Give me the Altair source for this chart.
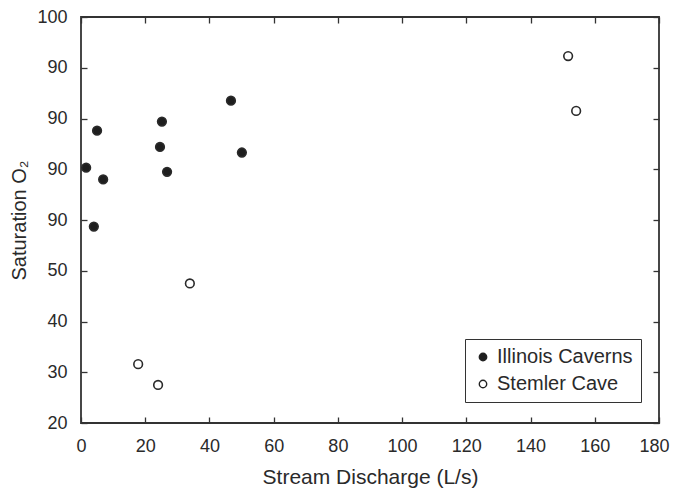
import altair as alt
import pandas as pd

# Data
illinois_x = [1.6, 5.0, 4.0, 6.9, 25.2, 24.6, 26.8, 46.7, 50.1]
illinois_y = [70.3, 77.6, 58.7, 68.0, 79.4, 74.4, 69.5, 83.5, 73.3]
stemler_x = [33.9, 17.8, 24.0, 151.7, 154.2]
stemler_y = [47.5, 31.6, 27.5, 92.3, 81.5]
series_names = ["Illinois Caverns", "Stemler Cave"]

x_ticks = [0, 20, 40, 60, 80, 100, 120, 140, 160, 180]
y_ticks = [20, 30, 40, 50, 60, 70, 80, 90, 100]
y_tick_labels = ["20", "30", "40", "50", "90", "90", "90", "90", "100"]

rows = [{"x": a, "y": b, "site": series_names[0]} for a, b in zip(illinois_x, illinois_y)]
rows += [{"x": a, "y": b, "site": series_names[1]} for a, b in zip(stemler_x, stemler_y)]
df = pd.DataFrame(rows)

W, H = 578, 406
FONT = "Liberation Sans"
TXT = "#2a2a2a"

label_map = "{" + ",".join(f"'{v}':'{l}'" for v, l in zip(y_ticks, y_tick_labels)) + "}"
y_label_expr = f"{label_map}[format(datum.value, 'd')]"

xscale = alt.Scale(domain=[0, 180], nice=False, zero=False)
yscale = alt.Scale(domain=[20, 100], nice=False, zero=False)

common_axis = dict(domain=False, grid=False, labelFont=FONT, titleFont=FONT,
                   labelColor=TXT, titleColor=TXT, labelFontSize=18, labelFlush=False,
                   titleFontWeight="normal", tickColor="#333", tickWidth=1.3)

# main layer with labels / titles
main = alt.Chart(df).mark_point(filled=True, size=75, strokeWidth=1.6, opacity=1).encode(
    x=alt.X("x:Q", scale=xscale,
            axis=alt.Axis(orient="bottom", values=x_ticks, tickSize=0, labelPadding=14,
                          title="Stream Discharge (L/s)", titlePadding=11, titleFontSize=21,
                          labelOffset={"condition": {"test": f"datum.value == {x_ticks[-1]}", "value": -5},
                                       "value": 0},
                          **common_axis)),
    y=alt.Y("y:Q", scale=yscale,
            axis=alt.Axis(orient="left", values=y_ticks, tickSize=0, labelPadding=14,
                          labelExpr=y_label_expr, title="Saturation O₂", titlePadding=7,
                          titleFontSize=20, **common_axis)),
    fill=alt.Fill("site:N", scale=alt.Scale(domain=series_names, range=["#1e1e1e", "white"]),
                  legend=alt.Legend(title=None, orient="none", legendX=384, legendY=322,
                                    strokeColor="#333", padding=8, fillColor="white",
                                    labelFont=FONT, labelFontSize=20, labelColor=TXT,
                                    symbolType="circle", symbolSize=55,
                                    symbolStrokeColor="#222", symbolStrokeWidth=1.4,
                                    rowPadding=7, labelOffset=4, labelLimit=300)),
    stroke=alt.value("#2a2a2a"),
    shape=alt.value("circle"),
)

tick_axis = dict(labels=False, title=None, tickSize=6, domain=False, grid=False,
                 tickColor="#333", tickWidth=1.3)

# inward ticks at bottom & left
inner1 = alt.Chart(df).mark_point(opacity=0).encode(
    x=alt.X("x:Q", scale=xscale, axis=alt.Axis(orient="top", offset=-H, values=x_ticks, **tick_axis)),
    y=alt.Y("y:Q", scale=yscale, axis=alt.Axis(orient="right", offset=-W, values=y_ticks, **tick_axis)),
)
# inward ticks at top & right
inner2 = alt.Chart(df).mark_point(opacity=0).encode(
    x=alt.X("x:Q", scale=xscale, axis=alt.Axis(orient="bottom", offset=-H, values=x_ticks, **tick_axis)),
    y=alt.Y("y:Q", scale=yscale, axis=alt.Axis(orient="left", offset=-W, values=y_ticks, **tick_axis)),
)

chart = alt.layer(inner1, inner2, main).resolve_axis(x="independent", y="independent").properties(
    width=W, height=H,
    autosize=alt.AutoSizeParams(type="none"),
    padding={"left": 73, "top": 9, "right": 11, "bottom": 66},
    background="white",
).configure_view(stroke="#333", strokeWidth=1.8)

chart.save("out.html", embed_options={"renderer": "svg", "actions": False})
